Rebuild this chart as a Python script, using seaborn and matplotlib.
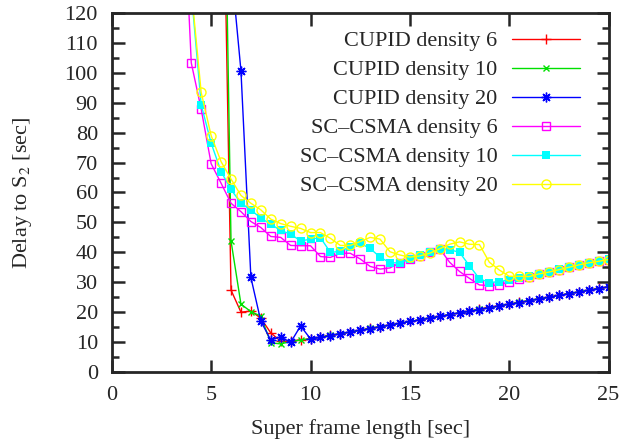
import numpy as np
import pandas as pd
import matplotlib
matplotlib.use("Agg")
import matplotlib.pyplot as plt
import seaborn as sns

# frame lengths (sec), 0.5 s steps
x_cupid = np.arange(5.5, 25.01, 0.5)
x_csma = np.arange(3.5, 25.01, 0.5)

# values
cupid_6 = [210, 27.4, 20.0, 20.4, 18.0, 13.1, 10.3, 10.3, 10.8,
           11.1, 11.7, 12.3, 12.8, 13.4, 14.0, 14.6, 15.2, 15.8, 16.3,
           16.9, 17.5, 18.1, 18.7, 19.2, 19.8, 20.4, 21.0, 21.6, 22.2,
           22.7, 23.3, 23.9, 24.5, 25.1, 25.7, 26.2, 26.8, 27.4, 28.0, 28.5]
cupid_10 = [245, 43.8, 22.7, 20.2, 18.7, 9.8, 9.4, 10.2, 10.7,
            11.1, 11.7, 12.3, 12.8, 13.4, 14.0, 14.6, 15.2, 15.7, 16.3,
            16.9, 17.5, 18.1, 18.6, 19.2, 19.8, 20.4, 21.0, 21.5, 22.1,
            22.7, 23.3, 23.9, 24.5, 25.0, 25.6, 26.2, 26.8, 27.4, 27.9, 28.5]
cupid_20 = [np.nan, 136, 100.7, 31.6, 17.0, 10.7, 11.8, 9.9, 15.4,
            11.1, 11.6, 12.2, 12.8, 13.4, 14.0, 14.5, 15.1, 15.7, 16.3,
            16.9, 17.4, 18.0, 18.6, 19.2, 19.8, 20.3, 20.9, 21.5, 22.1,
            22.7, 23.2, 23.8, 24.4, 25.0, 25.6, 26.2, 26.7, 27.3, 27.9, 28.5]

csma_6 = [175, 103.3, 87.8, 69.6, 63.1, 56.4, 53.6, 50.3, 48.3, 45.3, 45.0,
          42.3, 42.2, 42.2, 38.6, 38.3, 39.7, 39.7, 37.8, 35.3, 34.4, 34.8,
          36.5, 37.8, 38.9, 40.0, 41.2, 36.7, 33.6, 31.3, 29.1, 28.9, 29.1,
          30.2, 31.2, 31.9, 32.7, 33.4, 34.2, 35.0, 35.8, 36.5, 37.1, 37.6]
csma_10 = [np.nan, 127, 89.3, 76.5, 67.0, 61.0, 56.4, 54.2, 51.4, 49.4, 47.3,
           46.1, 43.8, 44.4, 44.9, 40.0, 40.3, 41.9, 43.0, 41.3, 38.4, 36.5,
           36.5, 37.8, 39.0, 40.0, 41.0, 40.9, 40.0, 35.5, 31.2, 29.9, 30.2,
           30.8, 31.5, 32.2, 32.9, 33.5, 34.4, 35.1, 35.9, 36.6, 37.2, 37.7]
csma_20 = [np.nan, 128, 93.4, 79.0, 70.3, 64.5, 59.0, 56.4, 54.2, 51.1, 49.6,
           48.7, 48.0, 46.6, 46.6, 44.7, 42.3, 42.3, 43.6, 45.0, 44.4, 40.2,
           39.1, 38.4, 38.8, 39.7, 41.2, 42.7, 43.5, 42.7, 42.6, 36.7, 34.1,
           32.0, 32.0, 31.9, 32.8, 33.4, 34.2, 35.0, 35.8, 36.5, 37.0, 37.6]

sns.set_style("ticks")
plt.rcParams['font.family'] = ['Liberation Serif', 'DejaVu Serif']
plt.rcParams['mathtext.fontset'] = 'stix'

fig = plt.figure(figsize=(6.21, 4.44), dpi=100)
ax = fig.add_axes([0.180, 0.162, 0.800, 0.809])

series = [
    ("CUPID density 6", x_cupid, cupid_6, "red", "+", dict(markersize=7, markeredgewidth=1)),
    ("CUPID density 10", x_cupid, cupid_10, "#00e000", "x", dict(markersize=5, markeredgewidth=1)),
    ("CUPID density 20", x_cupid, cupid_20, "blue", (8, 2, 0), dict(markersize=7, markeredgewidth=1)),
    ("SC\u2013CSMA density 6", x_csma, csma_6, "magenta", "s",
     dict(markersize=6, markerfacecolor="none", markeredgewidth=1)),
    ("SC\u2013CSMA density 10", x_csma, csma_10, "cyan", "s",
     dict(markersize=6, markeredgewidth=0)),
    ("SC\u2013CSMA density 20", x_csma, csma_20, "yellow", "o",
     dict(markersize=6.5, markerfacecolor="none", markeredgewidth=1)),
]

for name, xs, ys, col, mk, kw in series:
    df = pd.DataFrame({"x": xs, "y": ys}).dropna()
    sns.lineplot(data=df, x="x", y="y", ax=ax, color=col, marker=mk,
                 linewidth=1, label=name, markeredgecolor=col, **kw)

ax.set_xlim(0, 25)
ax.set_ylim(0, 120)
ax.set_xticks(np.arange(0, 26, 5))
ax.set_yticks(np.arange(0, 121, 10))
ax.set_yticks(np.arange(0, 121, 5), minor=True)
ax.tick_params(which="major", direction="in", length=9, width=1.8,
               top=True, right=True, labelsize=16, pad=10)
ax.tick_params(which="minor", direction="in", length=5, width=1.8,
               left=True, right=True, top=False, bottom=False)
for sp in ax.spines.values():
    sp.set_linewidth(2)
    sp.set_visible(True)

ax.set_xlabel("Super frame length [sec]", fontsize=16, labelpad=10)
ax.set_ylabel("Delay to S$_2$ [sec]", fontsize=16, labelpad=22)

ax.legend(loc="upper right", frameon=False, markerfirst=False, fontsize=16,
          handlelength=3.05, labelspacing=0.38, borderaxespad=0.0,
          bbox_to_anchor=(0.96, 0.975), handletextpad=0.65)

fig.savefig("out.png", dpi=100)
